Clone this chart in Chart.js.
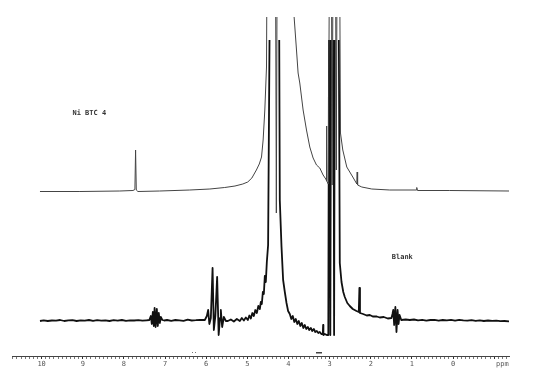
<!DOCTYPE html>
<html>
<head>
<meta charset="utf-8">
<script src="https://cdn.jsdelivr.net/npm/chart.js@4.4.1/dist/chart.umd.min.js"></script>
<style>
  html, body { margin: 0; padding: 0; background: #fff; }
  canvas { display: block; }
</style>
</head>
<body>
<canvas id="c" width="550" height="384"></canvas>
<script>
// ---- DATA (chemical shift in ppm, intensity in arbitrary units) ----
// Upper trace: "Ni BTC 4"
const upperPpm = [10.04, 9.07, 8.10, 7.78, 7.733, 7.716, 7.699, 7.66, 7.13, 6.40, 5.91, 5.55, 5.30, 5.11, 4.99, 4.89, 4.78, 4.71, 4.655, 4.616, 4.575, 4.534, 4.514, 4.320, 4.295, 4.271, 3.895, 3.863, 3.805, 3.766, 3.725, 3.644, 3.562, 3.482, 3.401, 3.319, 3.239, 3.158, 3.093, 3.083, 3.076, 3.068, 3.032, 2.996, 2.959, 2.940, 2.911, 2.862, 2.838, 2.813, 2.765, 2.736, 2.680, 2.583, 2.437, 2.352, 2.340, 2.330, 2.320, 2.218, 1.975, 1.538, 0.899, 0.882, 0.865, 0.080, -1.36];
const upperInt = [-1.5, -1.5, -1, -0.5, 0.5, 40, 0, -1.5, -1, 0, 1, 2.5, 4, 6, 8, 12, 20, 26, 33, 50, 80, 123, 300, 300, -23, 300, 250, 173, 140, 117, 107, 80, 60, 43, 32, 25, 22, 15, 11, 10, 64, 9, 6, 300, 300, 5, 300, 300, 20, 300, 300, 57, 40, 23, 13, 7, 6, 18, 5, 3, 1, 0, 0, 2.5, -0.5, -0.5, -1];

// Lower trace: "Blank"
const lowerPpm = [
  10.04, 9.95, 9.85, 9.75, 9.65, 9.55, 9.45, 9.35, 9.25, 9.15, 9.05, 8.95, 8.85, 8.75, 8.65, 8.55, 8.45, 8.35, 8.25, 8.15, 8.05, 7.95, 7.85, 7.75, 7.65, 7.55, 7.45,
  7.382, 7.346, 7.322, 7.297, 7.273, 7.254, 7.229, 7.200, 7.176, 7.152, 7.127, 7.103, 7.066,
  7.02, 6.95, 6.85, 6.75, 6.65, 6.55, 6.45, 6.35, 6.25, 6.15,
  6.033, 5.984, 5.952, 5.923, 5.887, 5.845, 5.814, 5.777, 5.734, 5.697, 5.663, 5.644, 5.612, 5.571, 5.522,
  5.474, 5.401, 5.328, 5.255, 5.182, 5.134, 5.085, 5.036, 4.988, 4.951, 4.915, 4.878, 4.842, 4.806, 4.769, 4.733, 4.696, 4.672, 4.648, 4.623, 4.599, 4.575, 4.551, 4.526, 4.495,
  4.441, 4.235, 4.211, 4.169, 4.130, 4.089, 4.048, 4.009, 3.968, 3.931, 3.895, 3.858, 3.822, 3.785, 3.749, 3.712, 3.676, 3.639, 3.603, 3.567, 3.530, 3.494, 3.457, 3.421, 3.384, 3.348, 3.311, 3.275, 3.239, 3.202, 3.166, 3.158, 3.151, 3.117, 3.069, 3.032,
  3.008, 2.983, 2.959, 2.911, 2.891, 2.869, 2.787, 2.753, 2.711, 2.668, 2.631, 2.570, 2.510, 2.437, 2.347, 2.291, 2.276, 2.262, 2.187, 2.097, 2.024, 1.951, 1.854, 1.781, 1.684, 1.586,
  1.497, 1.472, 1.453, 1.431, 1.402, 1.375, 1.348, 1.324, 1.300, 1.259,
  1.15, 1.05, 0.95, 0.85, 0.75, 0.65, 0.55, 0.45, 0.35, 0.25, 0.15, 0.05, -0.05, -0.15, -0.25, -0.35, -0.45, -0.55, -0.65, -0.75, -0.85, -0.95, -1.05, -1.15, -1.25, -1.36
];
const lowerInt = [
  -1, -0.3, -1, -0.5, -0.7, 0, -1, -0.4, -0.2, -1, -0.4, -0.7, 0, -0.8, -0.2, -0.6, -0.3, -1, -0.2, -0.6, 0, -0.8, -0.3, -0.5, -0.1, -0.7, -0.3,
  0, 4, -4, 8, -6, 12, -7, 11, -6, 7, -3, 3, 0,
  -0.5, 0, -0.8, 0, -0.3, -0.8, 0.3, -0.5, -0.2, 0.2,
  0, 4, 10, -4, 2, 52, -10, 4, 43, -15, 2, 10, -7, 3, -1,
  -1, 0.5, -1.5, 1, -1, 2, -0.5, 2.5, 0, 4.5, 1.5, 7, 4, 10, 7, 14, 11, 18, 16, 28, 26, 44, 38, 58, 75,
  400, 400, 120, 73, 40, 28, 17, 9, 6, 1, 4, -2, 1, -4, -1, -6, -3, -8, -5, -9, -7, -10, -8, -11, -9, -12, -11, -13, -12, -14, -14, -5, -15, -14, -15, -15,
  400, -15, 400, 400, -15, 400, 400, 57, 38, 28, 23, 17, 14, 11, 9, 8, 32, 7, 6, 4.5, 5, 3.5, 3.5, 2.5, 3, 1.5,
  2, 6, 10, -5, 13, -12, 10, -4, 5, 0,
  0.5, 0, 0.5, -0.3, 0.2, -0.6, 0, 0.2, -0.6, 0, -0.4, 0.2, -0.7, 0.2, -0.4, -0.7, -0.2, -0.8, -0.3, -1, -0.5, -0.9, -0.6, -1.2, -1, -1.3
];

// Axis labels
const majorTickLabels = [10, 9, 8, 7, 6, 5, 4, 3, 2, 1, 0];
const unitLabel = 'ppm';
const unitLabelPpm = -1.2;

// Integral region markers shown just above the axis (ppm)
const integralMarks = [6.30, 3.25];

// Trace labels (ppm, intensity on own trace)
const traceLabels = [
  { text: 'Ni BTC 4', ppm: 9.25, y: 77, axis: 'yU' },
  { text: 'Blank',    ppm: 1.49, y: 63, axis: 'yL' }
];

// ---- BUILD ----
const upperData = upperPpm.map((x, i) => ({ x, y: upperInt[i] }));
const lowerData = lowerPpm.map((x, i) => ({ x, y: lowerInt[i] }));

const labelPlugin = {
  id: 'traceLabels',
  afterDatasetsDraw(chart) {
    const ctx = chart.ctx;
    ctx.save();
    ctx.font = 'bold 7px "DejaVu Sans Mono", monospace';
    ctx.fillStyle = '#333';
    ctx.textBaseline = 'middle';
    ctx.textAlign = 'left';
    traceLabels.forEach(l => {
      const px = chart.scales.x.getPixelForValue(l.ppm);
      const py = chart.scales[l.axis].getPixelForValue(l.y);
      ctx.fillText(l.text, px, py);
    });
    // integral markers
    const base = chart.chartArea.bottom;
    ctx.fillStyle = '#777';
    integralMarks.forEach((p, i) => {
      const px = chart.scales.x.getPixelForValue(p);
      if (i === 0) {
        ctx.fillRect(Math.round(px) - 2, base - 4, 1, 1);
        ctx.fillRect(Math.round(px) + 1, base - 4, 1, 1);
      } else {
        ctx.fillStyle = '#444';
        ctx.fillRect(Math.round(px) - 3, base - 4, 6, 1.5);
      }
    });
    ctx.restore();
  }
};

new Chart(document.getElementById('c'), {
  type: 'line',
  data: {
    datasets: [
      {
        label: 'Ni BTC 4',
        data: upperData,
        yAxisID: 'yU',
        borderColor: '#444',
        borderWidth: 1,
        pointRadius: 0,
        tension: 0,
        borderJoinStyle: 'round',
        clip: 0
      },
      {
        label: 'Blank',
        data: lowerData,
        yAxisID: 'yL',
        borderColor: '#111',
        borderWidth: 1.8,
        pointRadius: 0,
        tension: 0,
        borderJoinStyle: 'round',
        clip: { left: 0, right: 0, top: -23, bottom: 0 }
      }
    ]
  },
  options: {
    responsive: false,
    animation: false,
    devicePixelRatio: 1,
    layout: { padding: { left: 12, right: 41, top: 17, bottom: 14.6 } },
    plugins: { legend: { display: false }, tooltip: { enabled: false } },
    scales: {
      x: {
        type: 'linear',
        reverse: true,
        min: -1.36,
        max: 10.72,
        afterBuildTicks(scale) {
          const t = [];
          for (let k = -13; k <= 107; k++) t.push({ value: k / 10, major: k % 10 === 0 });
          scale.ticks = t;
        },
        ticks: {
          autoSkip: false,
          maxRotation: 0,
          padding: 1,
          color: '#555',
          font: { family: '"DejaVu Sans Mono", monospace', size: 7 },
          callback(value) {
            const k = Math.round(value * 10);
            if (k === Math.round(unitLabelPpm * 10)) return unitLabel;
            if (k % 10 === 0 && majorTickLabels.includes(k / 10)) return String(k / 10);
            return '';
          }
        },
        grid: {
          drawOnChartArea: false,
          drawTicks: true,
          tickLength: 3,
          tickWidth: 1,
          tickColor: (c) => (c.tick && Math.round(c.tick.value * 10) % 10 === 0) ? '#333' : '#777'
        },
        border: { display: true, color: '#444', width: 1 }
      },
      yU: { type: 'linear', display: false, min: -166, max: 173 },
      yL: { type: 'linear', display: false, min: -36, max: 303 }
    }
  },
  plugins: [labelPlugin]
});
</script>
</body>
</html>
